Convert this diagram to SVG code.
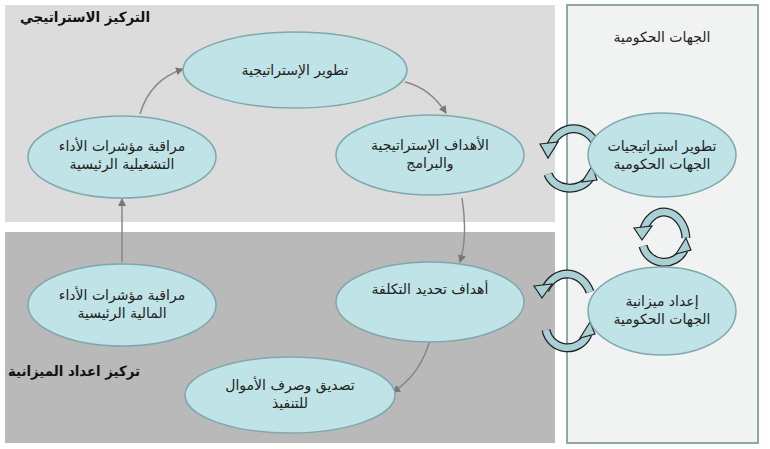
<svg xmlns="http://www.w3.org/2000/svg" width="770" height="449" viewBox="0 0 770 449">
<defs>
<marker id="ah" markerWidth="8" markerHeight="8" refX="7" refY="4" orient="auto" markerUnits="userSpaceOnUse"><path d="M0,0 L8,4 L0,8 z" fill="#777"/></marker>
<style>
.el{fill:#bfe3e6;stroke:#7fa8ad;stroke-width:1.5}
.t{font-family:"DejaVu Sans","Liberation Sans",sans-serif;font-size:14px;fill:#222;text-anchor:middle}
.h{font-family:"DejaVu Sans","Liberation Sans",sans-serif;font-size:14px;font-weight:bold;fill:#111;text-anchor:middle}
.c{fill:none;stroke:#888;stroke-width:1.5}
.bo{fill:none;stroke:#222;stroke-width:9}
.bi{fill:none;stroke:#a9d0d4;stroke-width:6.5}
.hd{fill:#a9d0d4;stroke:#222;stroke-width:1.2}
</style>
</defs>
<rect width="770" height="449" fill="#fff"/>
<rect x="5" y="5" width="550" height="217" fill="#dcdcdc"/>
<rect x="5" y="232" width="550" height="211" fill="#b9b9b9"/>
<rect x="567" y="5" width="191" height="438" fill="#f1f3f3" stroke="#8aa9aa" stroke-width="2"/>
<text class="h" x="85" y="22" direction="rtl" textLength="130" lengthAdjust="spacingAndGlyphs">التركيز الاستراتيجي</text>
<text class="h" x="74" y="376" direction="rtl" textLength="132" lengthAdjust="spacingAndGlyphs">تركيز اعداد الميزانية</text>
<text class="t" x="662" y="42" direction="rtl">الجهات الحكومية</text>
<g id="connectors">
<path class="c" d="M405,82 Q430,88 446,113" marker-end="url(#ah)"/>
<path class="c" d="M462,198 Q468,235 460,262" marker-end="url(#ah)"/>
<path class="c" d="M430,340 Q420,375 393,392" marker-end="url(#ah)"/>
<path class="c" d="M122,262 L122,199" marker-end="url(#ah)"/>
<path class="c" d="M140,114 Q150,80 183,69" marker-end="url(#ah)"/>
<g id="cyc1">
<path class="bo" d="M550,148 A25,28 0 0 1 598,150"/><path class="bi" d="M550,148 A25,28 0 0 1 598,150"/>
<polygon class="hd" points="540,144 558,142 548,158"/>
<path class="bo" d="M548,174 A23,20 0 0 0 590,178"/><path class="bi" d="M548,174 A23,20 0 0 0 590,178"/>
<polygon class="hd" points="582,182 597,180 592,166"/>
</g>
<g id="cyc2">
<path class="bo" d="M643,232 A22,28 0 0 1 686,238"/><path class="bi" d="M643,232 A22,28 0 0 1 686,238"/>
<polygon class="hd" points="634,228 652,226 642,240"/>
<path class="bo" d="M643,246 A22,22 0 0 0 684,250"/><path class="bi" d="M643,246 A22,22 0 0 0 684,250"/>
<polygon class="hd" points="676,254 691,250 686,238"/>
</g>
<g id="cyc3">
<path class="bo" d="M545,290 A25,30 0 0 1 590,292"/><path class="bi" d="M545,290 A25,30 0 0 1 590,292"/>
<polygon class="hd" points="534,286 552,284 542,298"/>
<path class="bo" d="M546,330 A22,22 0 0 0 588,334"/><path class="bi" d="M546,330 A22,22 0 0 0 588,334"/>
<polygon class="hd" points="580,338 595,334 590,322"/>
</g>
</g>
<g id="n1"><ellipse class="el" cx="295" cy="70" rx="112" ry="38"/><text class="t" x="295" y="75" direction="rtl">تطوير الإستراتيجية</text></g>
<g id="n2"><ellipse class="el" cx="430" cy="155" rx="94" ry="40"/><text class="t" x="430" y="150" direction="rtl">الأهداف الإستراتيجية</text><text class="t" x="430" y="168" direction="rtl">والبرامج</text></g>
<g id="n3"><ellipse class="el" cx="122" cy="157" rx="94" ry="41"/><text class="t" x="122" y="151" direction="rtl">مراقبة مؤشرات الأداء</text><text class="t" x="122" y="169" direction="rtl">التشغيلية الرئيسية</text></g>
<g id="n4"><ellipse class="el" cx="430" cy="302" rx="94" ry="40"/><text class="t" x="430" y="294" direction="rtl">أهداف تحديد التكلفة</text></g>
<g id="n5"><ellipse class="el" cx="122" cy="305" rx="94" ry="41"/><text class="t" x="122" y="300" direction="rtl">مراقبة مؤشرات الأداء</text><text class="t" x="122" y="318" direction="rtl">المالية الرئيسية</text></g>
<g id="n6"><ellipse class="el" cx="290" cy="395" rx="105" ry="38"/><text class="t" x="290" y="390" direction="rtl">تصديق وصرف الأموال</text><text class="t" x="290" y="408" direction="rtl">للتنفيذ</text></g>
<g id="n7"><ellipse class="el" cx="662" cy="155" rx="74" ry="42"/><text class="t" x="662" y="151" direction="rtl">تطوير استراتيجيات</text><text class="t" x="662" y="169" direction="rtl">الجهات الحكومية</text></g>
<g id="n8"><ellipse class="el" cx="662" cy="311" rx="74" ry="44"/><text class="t" x="662" y="306" direction="rtl">إعداد ميزانية</text><text class="t" x="662" y="324" direction="rtl">الجهات الحكومية</text></g>
</svg>
